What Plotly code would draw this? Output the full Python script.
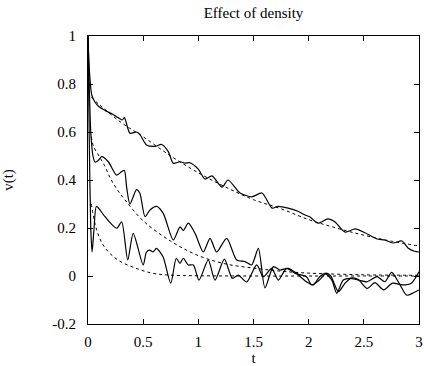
import plotly.graph_objects as go

# ---- data ----
t_top = [0.0, 0.012, 0.034, 0.063, 0.10, 0.154, 0.22, 0.272, 0.31, 0.33, 0.38, 0.44, 0.47, 0.53, 0.607,
         0.668, 0.728, 0.773, 0.834, 0.88, 0.924, 1.0, 1.06, 1.124, 1.215, 1.269, 1.378, 1.486,
         1.577, 1.668, 1.722, 1.813, 1.903, 1.967, 2.012, 2.085, 2.175, 2.239, 2.33, 2.42, 2.51,
         2.62, 2.69, 2.764, 2.846, 2.9, 2.96, 3.0]
v_top = [1.0, 0.86, 0.755, 0.725, 0.705, 0.69, 0.675, 0.66, 0.65, 0.66, 0.595, 0.60, 0.59, 0.546, 0.54,
         0.548, 0.518, 0.47, 0.476, 0.47, 0.472, 0.445, 0.404, 0.417, 0.37, 0.40, 0.346, 0.33,
         0.346, 0.283, 0.29, 0.283, 0.27, 0.254, 0.246, 0.22, 0.238, 0.225, 0.183, 0.196, 0.18,
         0.154, 0.15, 0.1375, 0.146, 0.117, 0.103, 0.10]

t_mid = [0.0, 0.012, 0.025, 0.045, 0.063, 0.09, 0.124, 0.184, 0.26, 0.305, 0.33, 0.35, 0.38, 0.44,
         0.47, 0.517, 0.562, 0.622, 0.683, 0.773, 0.834, 0.864, 0.909, 0.97, 1.045, 1.106, 1.166,
         1.257, 1.347, 1.423, 1.483, 1.544, 1.604, 1.68, 1.74, 1.816, 1.89, 1.98, 2.04, 2.1, 2.148,
         2.21, 2.254, 2.314, 2.375, 2.45, 2.53, 2.62, 2.69, 2.752, 2.828, 2.888, 2.95, 3.0]
v_mid = [1.0, 0.78, 0.60, 0.50, 0.475, 0.48, 0.497, 0.476, 0.42, 0.435, 0.44, 0.37, 0.30, 0.36,
         0.345, 0.247, 0.275, 0.29, 0.26, 0.15, 0.205, 0.19, 0.22, 0.178, 0.10, 0.157, 0.10,
         0.157, 0.067, 0.06, 0.046, 0.115, -0.05, 0.039, 0.025, 0.032, 0.011, -0.024, -0.037, -0.003, 0.011,
         -0.017, -0.072, -0.017, -0.01, -0.017, -0.024, -0.003, -0.024, 0.015, -0.037, -0.08, -0.07, -0.058]

t_bot = [0.0, 0.012, 0.025, 0.037, 0.055, 0.077, 0.154, 0.26, 0.305, 0.36, 0.41, 0.50, 0.53, 0.56,
         0.59, 0.62, 0.68, 0.75, 0.80, 0.834, 0.864, 0.909, 0.955, 1.006, 1.09, 1.151, 1.236, 1.308,
         1.362, 1.438, 1.529, 1.589, 1.665, 1.725, 1.80, 1.876, 1.98, 2.027, 2.09, 2.16, 2.20, 2.27,
         2.33, 2.39, 2.45, 2.53, 2.60, 2.68, 2.76, 2.85, 2.93, 3.0]
v_bot = [1.0, 0.55, 0.20, 0.10, 0.20, 0.29, 0.247, 0.199, 0.226, 0.067, 0.178, 0.046, 0.10, 0.108,
         0.10, 0.115, 0.08, -0.03, 0.074, 0.053, 0.074, 0.046, 0.046, -0.017, 0.067, -0.017, 0.07, -0.01,
         0.004, -0.025, 0.046, -0.003, 0.032, -0.017, 0.032, 0.011, -0.003, -0.037, -0.02, 0.012, 0.0, -0.065,
         -0.03, -0.008, -0.015, -0.052, -0.028, -0.058, -0.03, -0.037, -0.03, 0.018]

t_fit_top = [0.03, 0.1, 0.3, 0.5, 0.75, 1.0, 1.25, 1.5, 1.75, 2.0, 2.25, 2.5, 2.75, 3.0]
v_fit_top = [0.745, 0.715, 0.64, 0.58, 0.50, 0.43, 0.37, 0.318, 0.28, 0.235, 0.20, 0.17, 0.145, 0.125]

t_fit_mid = [0.03, 0.05, 0.1, 0.15, 0.2, 0.25, 0.33, 0.5, 0.75, 1.0, 1.25, 1.5, 1.75, 2.0, 2.5, 3.0]
v_fit_mid = [0.58, 0.54, 0.50, 0.46, 0.41, 0.37, 0.32, 0.23, 0.145, 0.085, 0.05, 0.033, 0.02, 0.012, 0.005, 0.003]

t_fit_bot = [0.03, 0.08, 0.15, 0.27, 0.43, 0.58, 0.73, 1.0, 1.5, 2.0, 2.5, 3.0]
v_fit_bot = [0.30, 0.19, 0.12, 0.067, 0.033, 0.012, 0.004, 0.001, 0.0, 0.0, 0.0, 0.0]

x_ticks = [0, 0.5, 1, 1.5, 2, 2.5, 3]
x_tick_text = ["0", "0.5", "1", "1.5", "2", "2.5", "3"]
y_ticks = [-0.2, 0, 0.2, 0.4, 0.6, 0.8, 1]
y_tick_text = ["-0.2", "0", "0.2", "0.4", "0.6", "0.8", "1"]

FONT = "Liberation Serif, Times New Roman, Tinos, DejaVu Serif, serif"
FS = 15

fig = go.Figure()
for tt, vv in [(t_fit_top, v_fit_top), (t_fit_mid, v_fit_mid), (t_fit_bot, v_fit_bot)]:
    fig.add_trace(go.Scatter(x=tt, y=vv, mode="lines",
                             line=dict(color="black", width=1, dash="dot", shape="spline", smoothing=1.0),
                             showlegend=False, hoverinfo="skip"))
for tt, vv in [(t_top, v_top), (t_mid, v_mid), (t_bot, v_bot)]:
    fig.add_trace(go.Scatter(x=tt, y=vv, mode="lines",
                             line=dict(color="black", width=1.2, shape="spline", smoothing=0.7),
                             showlegend=False, hoverinfo="skip"))

axis_common = dict(showline=True, linecolor="black", linewidth=1.2, mirror="ticks",
                   ticks="inside", ticklen=5, tickcolor="black", tickwidth=1,
                   showgrid=False, zeroline=False, automargin=False,
                   tickfont=dict(family=FONT, size=FS, color="black"))

fig.update_layout(
    width=424, height=366,
    margin=dict(l=88, r=5, t=36, b=42, autoexpand=False),
    paper_bgcolor="white", plot_bgcolor="white",
    font=dict(family=FONT, size=FS, color="black"),
    title=dict(text="Effect of density", x=0.5, xref="paper", xanchor="center",
               y=1 - 13 / 366, yref="container", yanchor="middle",
               font=dict(family=FONT, size=FS, color="black")),
    xaxis=dict(range=[0, 3], tickvals=x_ticks, ticktext=x_tick_text,
               title=dict(text="t", font=dict(family=FONT, size=FS, color="black"), standoff=2),
               ticklabelstandoff=4, **axis_common),
    yaxis=dict(range=[-0.2, 1], tickvals=y_ticks, ticktext=y_tick_text,
               title=dict(text="v(t)", font=dict(family=FONT, size=FS, color="black"), standoff=34),
               ticklabelstandoff=8, **axis_common),
)

fig.write_html("out.html", config={"displayModeBar": False},
               post_script="document.body.style.margin='0';document.body.style.padding='0';")
